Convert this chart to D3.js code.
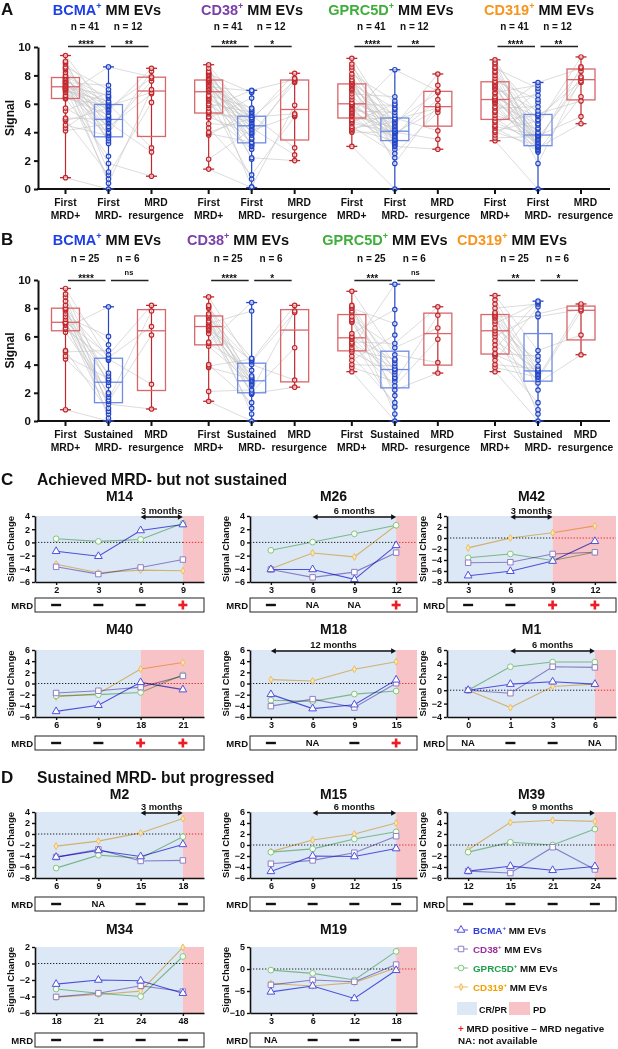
<!DOCTYPE html>
<html><head><meta charset="utf-8">
<script src="https://cdn.jsdelivr.net/npm/d3@7"></script>
<style>
body{margin:0;background:#fff}
svg{display:block}
text{font-family:"Liberation Sans",Arial,Helvetica,sans-serif;font-weight:bold;fill:#111}
</style>
</head><body>
<svg id="c" width="618" height="1049"></svg>
<script>
// ================= DATA =================
const markerNames = ["BCMA","CD38","GPRC5D","CD319"];
const markerTitleColors = ["#1f3fe6","#7a3fa8","#3fae3a","#f7941d"];
const markerLegendColors = ["#2f3fd8","#9b2f9b","#1e9e4a","#f0a000"];
const groupLabelsA = [["First","MRD+"],["First","MRD-"],["MRD","resurgence"]];
const groupLabelsB = [["First","MRD+"],["Sustained","MRD-"],["MRD","resurgence"]];
const nLabelsA = ["n = 41","n = 12"];
const nLabelsB = ["n = 25","n = 6"];
const sigA = [["****","**"],["****","*"],["****","**"],["****","**"]];
const sigB = [["****","ns"],["****","*"],["***","ns"],["**","*"]];
const signalTicks = [0,2,4,6,8,10];

// Panel A (First MRD+, First MRD-, MRD resurgence)
const aBcmaPos = [0.8,4.1,4.3,4.5,4.8,4.9,5.0,5.5,5.7,6.35,6.4,6.5,6.6,6.8,6.9,7.0,7.0,7.1,7.1,7.2,7.2,7.3,7.4,7.4,7.5,7.5,7.6,7.6,7.7,7.8,7.8,7.9,8.0,8.2,8.4,8.5,8.6,8.8,8.9,9.0,9.4];
const aBcmaNeg = [0.0,0.4,0.7,1.0,1.2,1.8,2.3,3.2,3.4,3.6,3.75,3.8,3.9,4.0,4.2,4.3,4.4,4.6,4.7,4.8,4.9,5.0,5.1,5.2,5.4,5.5,5.6,5.7,5.8,5.85,5.9,6.0,6.1,6.2,6.4,6.5,6.6,6.8,7.0,7.3,8.6];
const aBcmaRes = [0.9,2.6,2.9,6.1,6.7,6.8,7.0,7.6,7.8,7.9,8.3,8.5];
const aCd38Pos = [1.4,2.1,3.8,3.9,4.0,4.3,4.6,5.0,5.1,5.3,5.4,5.5,5.7,5.9,6.0,6.2,6.3,6.4,6.5,6.6,6.85,6.9,7.0,7.1,7.2,7.3,7.4,7.5,7.5,7.6,7.65,7.7,7.8,7.9,8.0,8.1,8.1,8.2,8.3,8.5,8.75];
const aCd38Neg = [0.1,0.15,0.7,1.0,2.1,2.2,2.8,3.0,3.1,3.2,3.3,3.5,3.6,3.8,3.9,4.0,4.1,4.2,4.3,4.4,4.45,4.5,4.6,4.7,4.8,4.85,4.9,5.0,5.0,5.05,5.05,5.2,5.3,5.4,5.5,5.6,5.7,6.4,6.8,6.9,6.95];
const aCd38Res = [2.0,2.4,2.9,5.1,5.2,5.3,5.9,7.5,7.6,7.7,7.8,8.15];
const aGprcPos = [3.0,4.0,4.1,4.2,4.3,4.4,4.6,4.7,4.8,4.9,5.1,5.2,5.3,5.4,5.5,5.6,5.7,5.8,5.9,5.95,6.0,6.1,6.3,6.5,6.7,6.9,7.0,7.1,7.2,7.3,7.4,7.4,7.5,7.6,7.7,7.9,8.1,8.4,8.6,8.8,9.2];
const aGprcNeg = [0.0,1.8,2.2,2.5,2.8,3.0,3.1,3.2,3.3,3.4,3.42,3.5,3.6,3.7,3.8,3.9,3.95,4.0,4.0,4.05,4.07,4.1,4.2,4.3,4.4,4.5,4.6,4.7,4.8,4.9,5.0,5.0,5.2,5.4,5.6,5.7,5.9,6.0,6.2,6.5,8.4];
const aGprcRes = [2.8,3.5,4.1,5.4,5.6,5.7,5.9,6.3,6.8,6.9,7.3,8.1];
const aCd319Pos = [3.4,3.6,3.8,4.0,4.1,4.3,4.4,4.5,4.7,4.8,5.0,5.2,5.4,5.5,5.7,5.8,6.0,6.1,6.2,6.25,6.3,6.4,6.5,6.7,6.8,7.0,7.1,7.2,7.3,7.4,7.5,7.6,7.8,8.0,8.2,8.3,8.5,8.6,8.8,8.9,9.1];
const aCd319Neg = [0.0,1.8,2.6,2.7,2.8,2.9,2.95,3.0,3.0,3.05,3.05,3.1,3.2,3.3,3.4,3.5,3.6,3.7,3.75,3.8,3.8,3.9,4.0,4.2,4.3,4.5,4.6,4.8,4.9,5.1,5.2,5.3,5.5,5.8,6.1,6.3,6.6,6.9,7.1,7.3,7.5];
const aCd319Res = [4.6,5.1,6.2,6.5,7.5,7.6,7.8,7.9,8.3,8.5,8.6,9.3];

// Panel B (First MRD+, Sustained MRD-, MRD resurgence)
const bBcmaPos = [0.8,4.4,4.6,4.9,5.0,6.3,6.5,6.6,6.8,6.9,7.0,7.0,7.0,7.2,7.4,7.6,7.8,7.9,8.0,8.0,8.2,8.5,8.8,9.0,9.4];
const bBcmaNeg = [0.0,0.2,0.5,0.7,0.9,1.2,1.4,1.5,1.7,1.9,2.0,2.5,2.75,2.9,3.0,3.2,3.4,4.3,4.4,4.5,4.7,5.0,5.4,6.0,8.1];
const bBcmaRes = [0.85,2.6,6.1,6.7,7.8,8.2];
const bCd38Pos = [1.4,2.1,3.8,3.9,4.0,5.3,5.5,5.6,6.2,6.4,6.5,6.6,6.7,6.8,6.9,7.0,7.1,7.3,7.4,7.5,7.6,8.0,8.1,8.2,8.8];
const bCd38Neg = [0.0,0.5,0.9,1.3,1.9,1.95,2.05,2.2,2.5,2.6,2.7,2.8,2.85,2.9,3.0,3.1,3.2,3.6,4.0,4.2,4.3,4.4,4.45,7.8,8.4];
const bCd38Res = [2.4,2.9,5.2,7.7,7.8,8.2];
const bGprcPos = [3.5,3.8,4.0,4.3,4.6,4.9,5.05,5.2,5.4,5.5,5.6,5.8,5.9,6.0,6.2,7.0,7.1,7.2,7.4,7.7,7.8,8.0,8.1,8.2,9.2];
const bGprcNeg = [0.0,0.5,1.0,1.3,1.8,2.2,2.5,2.8,3.0,3.1,3.3,3.5,3.65,3.7,3.9,4.1,4.3,4.4,4.7,5.2,5.5,6.1,6.9,7.9,9.7];
const bGprcRes = [3.4,4.15,5.8,6.6,7.5,8.1];
const bCd319Pos = [3.5,3.8,4.0,4.3,4.6,4.7,4.8,5.1,5.4,5.7,6.0,6.2,6.4,6.6,6.9,7.1,7.3,7.4,7.5,7.6,7.7,8.0,8.3,8.6,8.9];
const bCd319Neg = [0.0,0.5,0.8,1.3,2.2,2.7,2.95,3.1,3.2,3.3,3.4,3.5,3.55,3.6,3.7,3.9,4.3,4.6,5.0,7.4,7.6,8.1,8.3,8.4,8.5];
const bCd319Res = [4.7,6.1,7.8,7.9,8.1,8.3];

// Panels C & D: months, signal change per marker (BCMA, CD38, GPRC5D, CD319), MRD status
const m14Months = ["2","3","6","9"];
const m14BCMA = [-1.35,-2.1,1.8,2.7];
const m14CD38 = [-3.7,-4.8,-3.8,-2.6];
const m14GPRC5D = [0.55,0.15,0.45,2.9];
const m14CD319 = [-3.3,-4.6,-4.2,-4.3];
const m14MRD = ["-","-","-","+"];

const m26Months = ["3","6","9","12"];
const m26BCMA = [-4.1,-4.1,-5.6,-0.45];
const m26CD38 = [-4.1,-5.3,-4.5,-1.55];
const m26GPRC5D = [-1.2,0.05,1.3,2.6];
const m26CD319 = [-4.0,-1.6,-2.2,2.6];
const m26MRD = ["-","NA","NA","+"];

const m42Months = ["3","6","9","12"];
const m42BCMA = [-6.85,-6.05,-4.2,-0.6];
const m42CD38 = [-4.5,-4.4,-2.9,-2.6];
const m42GPRC5D = [-3.6,-2.9,-4.1,-2.6];
const m42CD319 = [-1.8,0.0,0.95,2.2];
const m42MRD = ["-","-","+","+"];

const m40Months = ["6","9","18","21"];
const m40BCMA = [-5.0,-3.9,0.2,-1.1];
const m40CD38 = [-1.7,-1.3,-0.65,1.35];
const m40GPRC5D = [-2.2,-2.0,-1.6,1.55];
const m40CD319 = [-2.4,-1.85,2.6,3.75];
const m40MRD = ["-","-","+","+"];

const m18Months = ["3","6","9","15"];
const m18BCMA = [-1.95,-4.5,-3.8,0.65];
const m18CD38 = [-4.05,-2.8,-4.3,0.05];
const m18GPRC5D = [-3.0,-3.2,-1.9,-1.35];
const m18CD319 = [0.7,0.45,2.55,3.9];
const m18MRD = ["-","NA","-","+"];

const m1Months = ["0","1","3","6"];
const m1BCMA = [0,0.9,1.25,0.9];
const m1CD38 = [0,-0.45,3.5,3.4];
const m1GPRC5D = [0,3.5,4.2,4.2];
const m1CD319 = [0,-2.6,0.55,0.9];
const m1MRD = ["NA","-","-","NA"];

const m2Months = ["6","9","15","18"];
const m2BCMA = [-4.2,-3.0,-4.1,-1.9];
const m2CD38 = [-4.2,-2.8,-4.9,-4.8];
const m2GPRC5D = [-6.2,-3.85,-4.4,-0.5];
const m2CD319 = [-2.2,-1.3,0.2,2.8];
const m2MRD = ["-","NA","-","-"];

const m15Months = ["6","9","12","15"];
const m15BCMA = [-4.8,-2.0,-2.1,-0.65];
const m15CD38 = [-3.4,-2.8,-1.4,1.6];
const m15GPRC5D = [-1.3,-0.7,1.1,2.4];
const m15CD319 = [-1.2,0.9,2.0,4.0];
const m15MRD = ["-","-","-","-"];

const m39Months = ["12","15","21","24"];
const m39BCMA = [-4.75,-3.85,-4.6,-3.9];
const m39CD38 = [-4.75,-5.1,-0.4,-4.45];
const m39GPRC5D = [-1.3,0.5,0.0,2.9];
const m39CD319 = [-0.85,4.1,4.5,4.3];
const m39MRD = ["-","-","-","-"];

const m34Months = ["18","21","24","48"];
const m34BCMA = [-2.5,-2.0,-2.1,-3.6];
const m34CD38 = [-4.05,-3.6,-2.7,-3.4];
const m34GPRC5D = [-3.1,-3.6,-4.0,0.85];
const m34CD319 = [-4.1,-3.75,-3.35,1.95];
const m34MRD = ["-","-","-","-"];

const m19Months = ["3","6","12","18"];
const m19BCMA = [-5.2,-3.85,-6.7,-0.3];
const m19CD38 = [-3.6,-2.5,-2.9,1.0];
const m19GPRC5D = [-0.25,-1.0,-2.5,4.0];
const m19CD319 = [-3.3,-3.85,-3.1,0.3];
const m19MRD = ["NA","-","-","-"];

const ticks6_4 = [-6,-4,-2,0,2,4];
const ticks8_4 = [-8,-6,-4,-2,0,2,4];
const ticks6_6 = [-6,-4,-2,0,2,4,6];
const ticks4_6 = [-4,-2,0,2,4,6];
const ticks6_2 = [-6,-4,-2,0,2];
const ticks10_5 = [-10,-5,0,5];

// ================= DRAWING =================
const svg = d3.select("#c");
const RED="#c1272d", RED_BOX="#d8666a", BLUE="#2446c6", BLUE_BOX="#6d8ce2", LINK="#c4c4c4";
const BLUE_BG="#dce8f6", PINK_BG="#f8c3c6";

function gq(s,p){ // GraphPad-style quantile on sorted array
  const n=s.length; const pos=(n+1)*p;
  if(pos<=1) return s[0]; if(pos>=n) return s[n-1];
  const lo=Math.floor(pos), f=pos-lo; return s[lo-1]+f*(s[lo]-s[lo-1]);
}
function supLabel(t,name,color,size,rest){
  t.append("tspan").style("fill",color).text(name);
  t.append("tspan").style("fill",color).attr("font-size",size*0.62).attr("dy",-size*0.38).text("+");
  t.append("tspan").style("fill","#111").attr("dy",size*0.38).text(rest);
}

const boxX = d3.scaleLinear().domain([0,11.99]).range([65.5,581]);
const catPos = (g,i)=>boxX(g*3.33+i);
const labelShift = [0,0,4.5];

function boxPanel(P){
  const y = d3.scaleLinear().domain([0,10]).range([P.y0,P.y10]);
  svg.append("text").attr("x",1).attr("y",P.titleY).attr("font-size",17).text(P.letter);
  svg.append("text").attr("transform",`translate(14,${(P.y0+P.y10)/2}) rotate(-90)`)
    .attr("text-anchor","middle").attr("font-size",12).text("Signal");
  const ya = svg.append("g").attr("transform","translate(38,0)")
    .call(d3.axisLeft(y).tickValues(signalTicks).tickSize(4).tickSizeOuter(0).tickPadding(3));
  ya.select(".domain").attr("stroke","#111").attr("stroke-width",2);
  ya.selectAll(".tick line").attr("stroke","#111").attr("stroke-width",2);
  ya.selectAll(".tick text").attr("font-size",11.5).attr("font-family",null).attr("fill",null);
  svg.append("line").attr("x1",37).attr("x2",610).attr("y1",y(0)).attr("y2",y(0))
    .attr("stroke","#111").attr("stroke-width",2);

  P.data.forEach((trip,g)=>{
    const [pos,neg,res]=trip;
    const xs=[0,1,2].map(i=>catPos(g,i));
    const n=pos.length;
    const lg=svg.append("g");
    pos.forEach((v,i)=>{ const j=(i*P.stride)%n;
      lg.append("line").attr("x1",xs[0]).attr("y1",y(v)).attr("x2",xs[1]).attr("y2",y(neg[j]))
        .attr("stroke",LINK).attr("stroke-width",0.6); });
    res.forEach((v,i)=>{ const j=(i*13+5)%n;
      lg.append("line").attr("x1",xs[1]).attr("y1",y(neg[j])).attr("x2",xs[2]).attr("y2",y(v))
        .attr("stroke",LINK).attr("stroke-width",0.6); });
    [pos,neg,res].forEach((arr,i)=>{
      const s=arr.slice().sort(d3.ascending);
      const q1=gq(s,0.25), med=gq(s,0.5), q3=gq(s,0.75), mn=s[0], mx=s[s.length-1];
      const col=i===1?BLUE:RED, bcol=i===1?BLUE_BOX:RED_BOX, cx=xs[i];
      svg.append("line").attr("x1",cx).attr("x2",cx).attr("y1",y(mn)).attr("y2",y(mx)).attr("stroke",col).attr("stroke-width",1.2);
      [mn,mx].forEach(v=>svg.append("line").attr("x1",cx-5.5).attr("x2",cx+5.5).attr("y1",y(v)).attr("y2",y(v)).attr("stroke",col).attr("stroke-width",1.3));
      svg.append("rect").attr("x",cx-14).attr("width",28).attr("y",y(q3)).attr("height",y(q1)-y(q3))
        .attr("fill","none").attr("stroke",bcol).attr("stroke-width",1.3);
      svg.append("line").attr("x1",cx-14).attr("x2",cx+14).attr("y1",y(med)).attr("y2",y(med)).attr("stroke",bcol).attr("stroke-width",1.3);
      arr.forEach(v=>svg.append("circle").attr("cx",cx).attr("cy",y(v)).attr("r",2.2)
        .attr("fill","#fff").attr("fill-opacity",0.6).attr("stroke",col).attr("stroke-width",1.2));
      svg.append("line").attr("x1",cx).attr("x2",cx).attr("y1",y(0)).attr("y2",y(0)+5).attr("stroke","#111").attr("stroke-width",2);
      const lab=P.groupLabels[i];
      svg.append("text").attr("x",cx+labelShift[i]).attr("y",y(0)+17).attr("text-anchor","middle").attr("font-size",10.3).text(lab[0]);
      svg.append("text").attr("x",cx+labelShift[i]).attr("y",y(0)+30).attr("text-anchor","middle").attr("font-size",10.3).text(lab[1]);
    });
    const t=svg.append("text").attr("x",P.titleX[g]).attr("y",P.titleY).attr("text-anchor","middle").attr("font-size",14.5);
    supLabel(t,markerNames[g],markerTitleColors[g],14.5," MM EVs");
    [0,1].forEach(k=>{
      const mx=(xs[k]+xs[k+1])/2-2;
      svg.append("text").attr("x",mx).attr("y",P.nY).attr("text-anchor","middle").attr("font-size",10).text(P.nLabels[k]);
      svg.append("line").attr("x1",xs[k]+2.5).attr("x2",xs[k+1]-3).attr("y1",P.barY).attr("y2",P.barY).attr("stroke","#222").attr("stroke-width",1.5);
      const st=P.sig[g][k];
      if(st==="ns") svg.append("text").attr("x",mx+1).attr("y",P.barY-5.5).attr("text-anchor","middle").attr("font-size",7.5).text(st);
      else svg.append("text").attr("x",mx+1).attr("y",P.barY+1).attr("text-anchor","middle").attr("font-size",10).text(st);
    });
  });
}

boxPanel({letter:"A",y0:189,y10:47,titleY:15,nY:29.5,barY:46.5,stride:17,
  data:[[aBcmaPos,aBcmaNeg,aBcmaRes],[aCd38Pos,aCd38Neg,aCd38Res],[aGprcPos,aGprcNeg,aGprcRes],[aCd319Pos,aCd319Neg,aCd319Res]],
  groupLabels:groupLabelsA,nLabels:nLabelsA,sig:sigA,titleX:[107,252,391,539]});
boxPanel({letter:"B",y0:421,y10:280,titleY:245,nY:262,barY:280.5,stride:7,
  data:[[bBcmaPos,bBcmaNeg,bBcmaRes],[bCd38Pos,bCd38Neg,bCd38Res],[bGprcPos,bGprcNeg,bGprcRes],[bCd319Pos,bCd319Neg,bCd319Res]],
  groupLabels:groupLabelsB,nLabels:nLabelsB,sig:sigB,titleX:[107,238,385,512]});

// ---------- Panels C & D ----------
svg.append("text").attr("x",1).attr("y",485).attr("font-size",17).text("C");
svg.append("text").attr("x",37).attr("y",485).attr("font-size",15.7).text("Achieved MRD- but not sustained");
svg.append("text").attr("x",1).attr("y",783).attr("font-size",17).text("D");
svg.append("text").attr("x",37).attr("y",783).attr("font-size",15.6).text("Sustained MRD- but progressed");

const cols=[[35,204],[250,417],[447,616]];
const rowsCD=[{top:516,bottom:582,title:500.5,mrd:598},{top:650,bottom:717,title:634,mrd:736},
              {top:812,bottom:878,title:799,mrd:897},{top:947,bottom:1013,title:934,mrd:1033}];
const seriesStyle=[
  {line:"#5858e4",stroke:"#5050e0",fill:"#ffffff",sym:d3.symbolTriangle,size:26},
  {line:"#9c8ccc",stroke:"#8f7fc4",fill:"#ffffff",sym:d3.symbolSquare,size:30},
  {line:"#8fc98f",stroke:"#86c386",fill:"#f6fff2",sym:d3.symbolCircle,size:26},
  {line:"#f2c473",stroke:"#eebd66",fill:"#fbe6ad",sym:d3.symbolDiamond,size:14}];

function mrdMark(g,cx,cy,s){
  if(s==="-") g.append("rect").attr("x",cx-5).attr("y",cy-1.2).attr("width",10).attr("height",2.4).attr("fill","#111");
  else if(s==="+"){ g.append("rect").attr("x",cx-4.5).attr("y",cy-1.3).attr("width",9).attr("height",2.6).attr("fill","#ee1c24");
    g.append("rect").attr("x",cx-1.3).attr("y",cy-4.5).attr("width",2.6).attr("height",9).attr("fill","#ee1c24"); }
  else g.append("text").attr("x",cx).attr("y",cy+3.4).attr("text-anchor","middle").attr("font-size",9.5).text(s);
}

function smallPlot(p){
  const [x0,x1]=cols[p.col], r=rowsCD[p.row];
  const x=d3.scalePoint().domain(p.months).range([x0,x1]).padding(0.5);
  const y=d3.scaleLinear().domain(d3.extent(p.ticks)).range([r.bottom,r.top]);
  const pdX=x(p.months[p.pd]);
  const g=svg.append("g");
  g.append("rect").attr("x",x0).attr("y",r.top).attr("width",pdX-x0).attr("height",r.bottom-r.top).attr("fill",BLUE_BG);
  g.append("rect").attr("x",pdX).attr("y",r.top).attr("width",x1-pdX).attr("height",r.bottom-r.top).attr("fill",PINK_BG);
  g.append("line").attr("x1",x0).attr("x2",pdX).attr("y1",y(0)).attr("y2",y(0)).attr("stroke","#222").attr("stroke-width",1).attr("stroke-dasharray","1.3,1.7");
  g.append("line").attr("x1",pdX).attr("x2",x1).attr("y1",y(0)).attr("y2",y(0)).attr("stroke","#e02828").attr("stroke-width",1).attr("stroke-dasharray","1.3,1.7");
  const order=[3,2,1,0];
  order.forEach(k=>{
    const pts=p.series[k].map((v,i)=>[x(p.months[i]),y(v)]);
    g.append("path").attr("d",d3.line()(pts)).attr("fill","none").attr("stroke",seriesStyle[k].line)
      .attr("stroke-width",1.1).style("mix-blend-mode","multiply");
  });
  order.forEach(k=>{
    const st=seriesStyle[k];
    p.series[k].forEach((v,i)=>g.append("path").attr("d",d3.symbol().type(st.sym).size(st.size)())
      .attr("transform",`translate(${x(p.months[i])},${y(v)})`).attr("fill",st.fill).attr("stroke",st.stroke).attr("stroke-width",1));
  });
  const ya=g.append("g").attr("transform",`translate(${x0},0)`).call(d3.axisLeft(y).tickValues(p.ticks).tickSize(3).tickSizeOuter(0).tickPadding(2));
  const xa=g.append("g").attr("transform",`translate(0,${r.bottom})`).call(d3.axisBottom(x).tickSize(3).tickSizeOuter(0).tickPadding(2));
  [ya,xa].forEach(a=>{ a.select(".domain").attr("stroke","#111").attr("stroke-width",1.6);
    a.selectAll(".tick line").attr("stroke","#111").attr("stroke-width",1.4);
    a.selectAll(".tick text").attr("font-size",9).attr("font-family",null).attr("fill",null); });
  g.append("text").attr("transform",`translate(${x0-21},${(r.top+r.bottom)/2}) rotate(-90)`).attr("text-anchor","middle").attr("font-size",9.5).text("Signal Change");
  g.append("text").attr("x",(x0+x1)/2).attr("y",r.title).attr("text-anchor","middle").attr("font-size",14).text(p.name);
  if(p.arrow){
    const ax0=x(p.months[p.arrow[0]]), ax1=x(p.months[p.arrow[1]]), ay=r.top+1;
    g.append("line").attr("x1",ax0+3).attr("x2",ax1-3).attr("y1",ay).attr("y2",ay).attr("stroke","#111").attr("stroke-width",1.5);
    g.append("path").attr("d",`M${ax0},${ay}l5,-2.8v5.6z`).attr("fill","#111");
    g.append("path").attr("d",`M${ax1},${ay}l-5,-2.8v5.6z`).attr("fill","#111");
    g.append("text").attr("x",(ax0+ax1)/2).attr("y",ay-3.2).attr("text-anchor","middle").attr("font-size",9.3).text(p.arrowLabel);
  }
  g.append("rect").attr("x",x0).attr("y",r.mrd).attr("width",x1-x0).attr("height",14).attr("fill","none").attr("stroke","#222").attr("stroke-width",1);
  g.append("text").attr("x",x0-2).attr("y",r.mrd+10.5).attr("text-anchor","end").attr("font-size",9.5).text("MRD");
  p.mrd.forEach((s,i)=>mrdMark(g,x(p.months[i]),r.mrd+7,s));
}

const smallPlots=[
  {name:"M14",months:m14Months,series:[m14BCMA,m14CD38,m14GPRC5D,m14CD319],mrd:m14MRD,ticks:ticks6_4,pd:3,arrow:[2,3],arrowLabel:"3 months",col:0,row:0},
  {name:"M26",months:m26Months,series:[m26BCMA,m26CD38,m26GPRC5D,m26CD319],mrd:m26MRD,ticks:ticks6_4,pd:3,arrow:[1,3],arrowLabel:"6 months",col:1,row:0},
  {name:"M42",months:m42Months,series:[m42BCMA,m42CD38,m42GPRC5D,m42CD319],mrd:m42MRD,ticks:ticks8_4,pd:2,arrow:[1,2],arrowLabel:"3 months",col:2,row:0},
  {name:"M40",months:m40Months,series:[m40BCMA,m40CD38,m40GPRC5D,m40CD319],mrd:m40MRD,ticks:ticks6_6,pd:2,col:0,row:1},
  {name:"M18",months:m18Months,series:[m18BCMA,m18CD38,m18GPRC5D,m18CD319],mrd:m18MRD,ticks:ticks6_6,pd:3,arrow:[0,3],arrowLabel:"12 months",col:1,row:1},
  {name:"M1",months:m1Months,series:[m1BCMA,m1CD38,m1GPRC5D,m1CD319],mrd:m1MRD,ticks:ticks4_6,pd:3,arrow:[1,3],arrowLabel:"6 months",col:2,row:1},
  {name:"M2",months:m2Months,series:[m2BCMA,m2CD38,m2GPRC5D,m2CD319],mrd:m2MRD,ticks:ticks8_4,pd:3,arrow:[2,3],arrowLabel:"3 months",col:0,row:2},
  {name:"M15",months:m15Months,series:[m15BCMA,m15CD38,m15GPRC5D,m15CD319],mrd:m15MRD,ticks:ticks6_6,pd:3,arrow:[1,3],arrowLabel:"6 months",col:1,row:2},
  {name:"M39",months:m39Months,series:[m39BCMA,m39CD38,m39GPRC5D,m39CD319],mrd:m39MRD,ticks:ticks6_6,pd:3,arrow:[1,3],arrowLabel:"9 months",col:2,row:2},
  {name:"M34",months:m34Months,series:[m34BCMA,m34CD38,m34GPRC5D,m34CD319],mrd:m34MRD,ticks:ticks6_2,pd:3,col:0,row:3},
  {name:"M19",months:m19Months,series:[m19BCMA,m19CD38,m19GPRC5D,m19CD319],mrd:m19MRD,ticks:ticks10_5,pd:3,col:1,row:3}
];
smallPlots.forEach(smallPlot);

// ---------- Legend ----------
const leg=svg.append("g");
[930,949,968,987].forEach((ly,k)=>{
  const st=seriesStyle[k];
  leg.append("line").attr("x1",454).attr("x2",468).attr("y1",ly).attr("y2",ly).attr("stroke",st.line).attr("stroke-width",1.1);
  leg.append("path").attr("d",d3.symbol().type(st.sym).size(st.size)()).attr("transform",`translate(461,${ly})`)
    .attr("fill",st.fill).attr("stroke",st.stroke).attr("stroke-width",1);
  const t=leg.append("text").attr("x",473).attr("y",ly+3.5).attr("font-size",9.8);
  supLabel(t,markerNames[k],markerLegendColors[k],9.8," MM EVs");
});
leg.append("rect").attr("x",457).attr("y",1002).attr("width",20).attr("height",13).attr("fill",BLUE_BG);
leg.append("text").attr("x",479).attr("y",1012.5).attr("font-size",9).text("CR/PR");
leg.append("rect").attr("x",509).attr("y",1002).attr("width",21).attr("height",13).attr("fill",PINK_BG);
leg.append("text").attr("x",533).attr("y",1012.5).attr("font-size",9.5).text("PD");
const n1=leg.append("text").attr("x",458).attr("y",1032).attr("font-size",9.8);
n1.append("tspan").style("fill","#ee1c24").text("+");
n1.append("tspan").text(" MRD positive  \u2013 MRD negative");
leg.append("text").attr("x",458).attr("y",1044).attr("font-size",9.8).text("NA: not available");
</script>
</body></html>
